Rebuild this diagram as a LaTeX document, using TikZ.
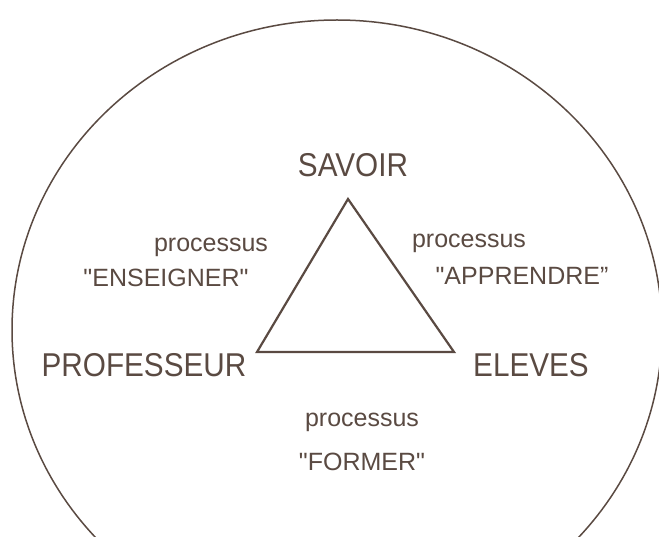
\documentclass[tikz,border=0pt]{standalone}
\usepackage{fontspec}
\usepackage{xcolor}
\usepackage{tikz}
\usetikzlibrary{positioning, calc}
\setmainfont{Liberation Sans}
\newfontfamily\polebig[FakeStretch=0.9]{Liberation Sans}
\newfontfamily\polesmall{Liberation Sans}
\definecolor{ink}{HTML}{5A4A42}
\tikzset{
    pole/.style={
        anchor=base, inner sep=0pt, text=ink,
        font=\polebig\fontsize{33}{38}\selectfont,
    },
    proc/.style={
        anchor=base, inner sep=0pt, text=ink,
        font=\polesmall\fontsize{25}{30}\selectfont,
    },
    rim/.style={
        draw=ink, line width=1.5pt,
    },
    tri/.style={
        draw=ink, line width=2.2pt,
    },
}

\begin{document}
\begin{tikzpicture}[x=1pt, y=-1pt]

    % ── Frame ──
    \useasboundingbox (0,0) rectangle (659,537);
    \clip (0,0) rectangle (659,537);

    % ── Outer circle ──
    \draw[rim] (337,330) ellipse [x radius=325, y radius=310];

    % ── Triangle corners ──
    \coordinate (top)   at (348,199);
    \coordinate (left)  at (257,352);
    \coordinate (right) at (454,352);
    \draw[tri] (top) -- (left) -- (right) -- cycle;

    % ── Poles ──
    \node[pole] (savoir) at (353,177) {SAVOIR};
    \node[pole] (prof)   at (144,377) {PROFESSEUR};
    \node[pole] (eleves) at (531,377) {ELEVES};

    % ── Processes ──
    \node[proc] (procens) at (211,252) {processus};
    \node[proc] (ens)     at (166,287) {"ENSEIGNER"};
    \node[proc] (procapp) at (469,248) {processus};
    \node[proc] (app)     at (522,285) {"APPRENDRE”};
    \node[proc] (procfor) at (362,427) {processus};
    \node[proc] (for)     at (362,470) {"FORMER"};

\end{tikzpicture}
\end{document}
